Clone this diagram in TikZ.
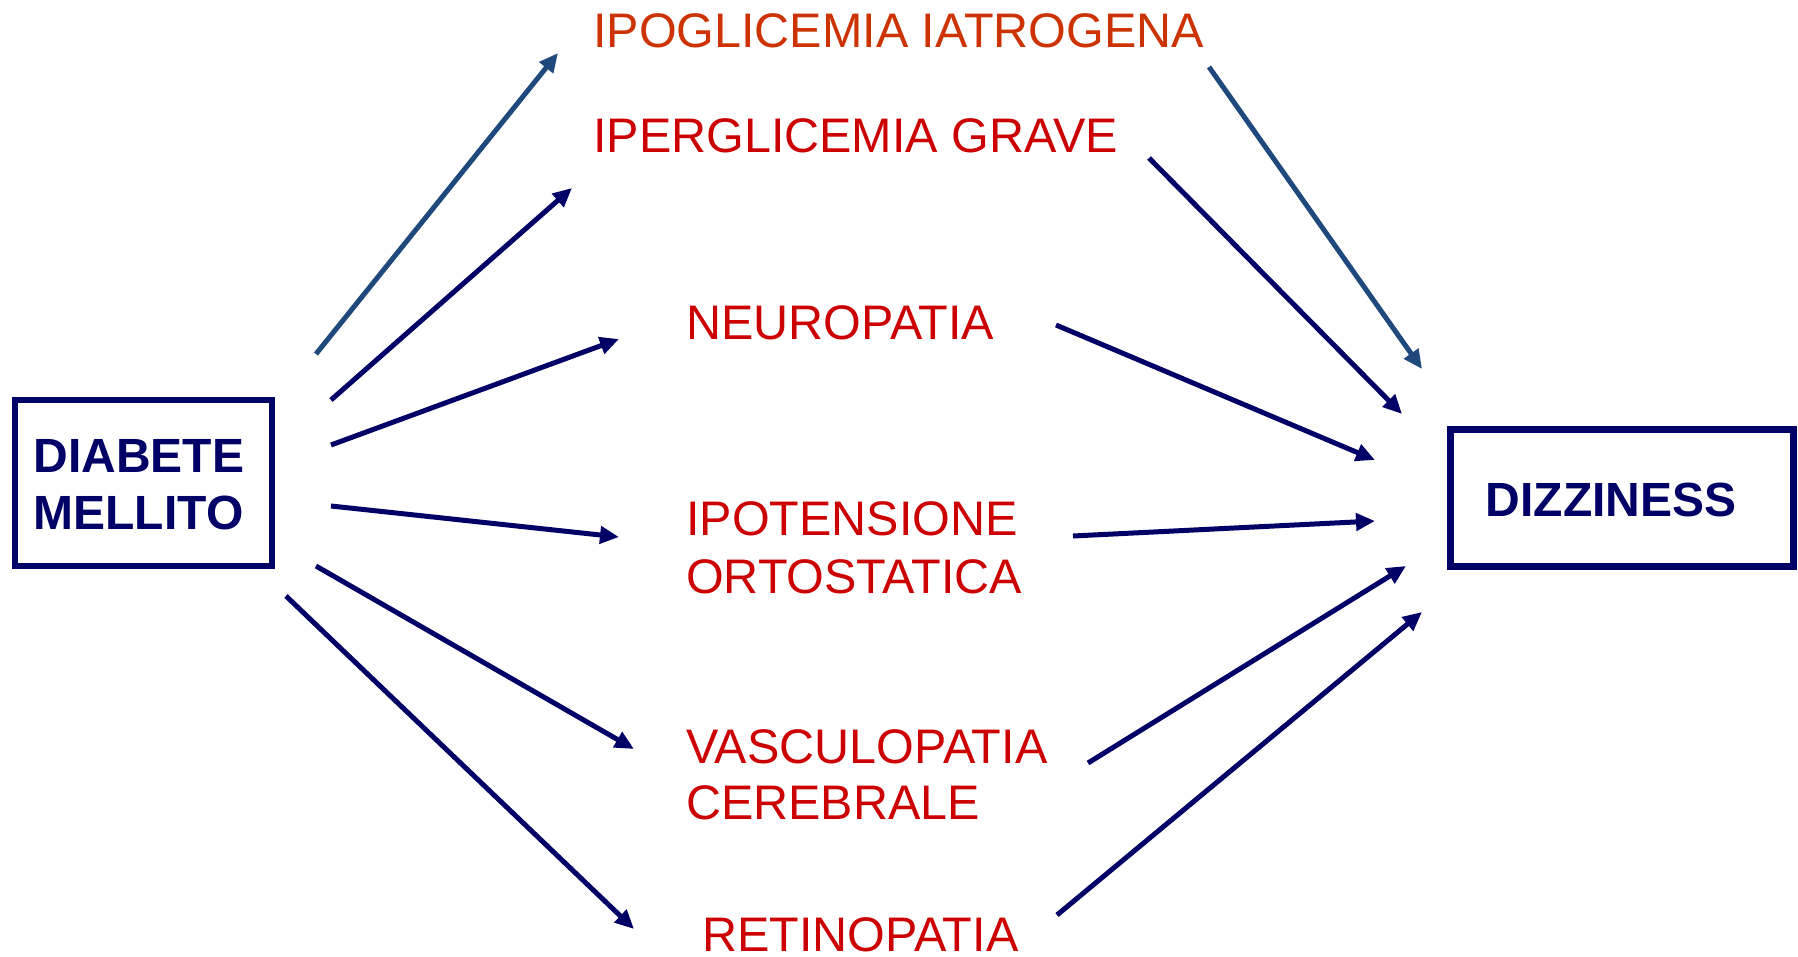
\documentclass[tikz,border=0pt]{standalone}
\usepackage{fontspec}
\setmainfont{Liberation Sans}
\usetikzlibrary{arrows.meta}
\definecolor{navy}{RGB}{0,0,102}
\definecolor{steel}{RGB}{31,73,125}
\definecolor{redtxt}{RGB}{204,0,0}
\definecolor{orangetxt}{RGB}{204,51,0}
\begin{document}
\begin{tikzpicture}[x=1pt,y=-1pt,
  cause/.style={anchor=base west,inner sep=0pt,text=redtxt,font=\fontsize{48.5}{58}\selectfont},
  boxtext/.style={inner sep=0pt,text=navy,align=left,font=\fontsize{48}{57}\selectfont\bfseries},
  frame/.style={draw=navy,inner sep=0pt},
  arr/.style={draw=navy,line width=5pt,-{Triangle[length=19pt,width=17pt]}},
  barr/.style={arr,draw=steel}
]
\useasboundingbox[fill=white] (0,0) rectangle (1798,957);
% boxes
\node[frame,line width=6pt,minimum width=257pt,minimum height=166pt] (dmbox) at (143.5,483) {};
\node[boxtext] (dm) at (139,484.5) {DIABETE\\MELLITO};
\node[frame,line width=7pt,minimum width=343pt,minimum height=137pt] (dzbox) at (1622,498) {};
\node[boxtext] (dz) at (1611,499.5) {DIZZINESS};
% causes
\node[cause,text=orangetxt] (ipo) at (593,48) {IPOGLICEMIA IATROGENA};
\node[cause] (iper) at (593,153) {IPERGLICEMIA GRAVE};
\node[cause] (neuro) at (686,339) {NEUROPATIA};
\node[cause] (ipot1) at (686,535) {IPOTENSIONE};
\node[cause] (ipot2) at (686,593) {ORTOSTATICA};
\node[cause] (vasc1) at (686,763) {VASCULOPATIA};
\node[cause] (vasc2) at (686,819) {CEREBRALE};
\node[cause] (retino) at (702,951) {RETINOPATIA};
% arrow end points
\coordinate (a1s) at (316,354);  \coordinate (a1e) at (558,53);
\coordinate (a2s) at (331,400);  \coordinate (a2e) at (572,188);
\coordinate (a3s) at (331,445);  \coordinate (a3e) at (619,339);
\coordinate (a4s) at (331,506);  \coordinate (a4e) at (619,537);
\coordinate (a5s) at (316,566);  \coordinate (a5e) at (634,749);
\coordinate (a6s) at (286,596);  \coordinate (a6e) at (634,929);
\coordinate (b1s) at (1209,67);  \coordinate (b1e) at (1422,369);
\coordinate (b2s) at (1149,158); \coordinate (b2e) at (1402,414);
\coordinate (b3s) at (1056,325); \coordinate (b3e) at (1375,460);
\coordinate (b4s) at (1073,536); \coordinate (b4e) at (1375,521);
\coordinate (b5s) at (1088,763); \coordinate (b5e) at (1406,566);
\coordinate (b6s) at (1057,915); \coordinate (b6e) at (1422,612);
% arrows
\draw[barr] (a1s) -- (a1e);
\draw[arr] (a2s) -- (a2e);
\draw[arr] (a3s) -- (a3e);
\draw[arr] (a4s) -- (a4e);
\draw[arr] (a5s) -- (a5e);
\draw[arr] (a6s) -- (a6e);
\draw[barr] (b1s) -- (b1e);
\draw[arr] (b2s) -- (b2e);
\draw[arr] (b3s) -- (b3e);
\draw[arr] (b4s) -- (b4e);
\draw[arr] (b5s) -- (b5e);
\draw[arr] (b6s) -- (b6e);
\end{tikzpicture}
\end{document}
